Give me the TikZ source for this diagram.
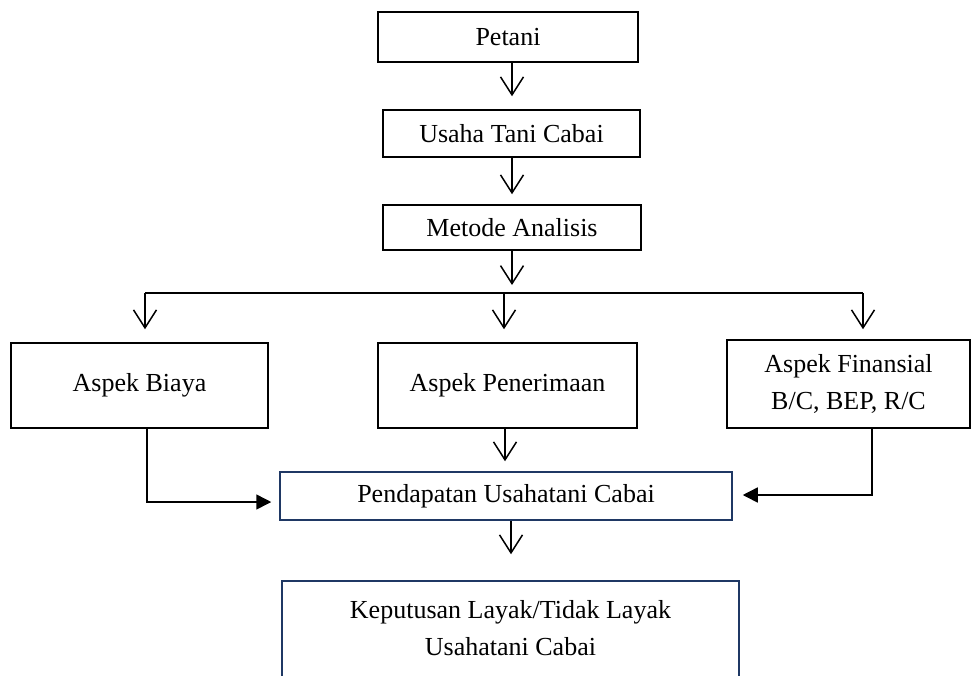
\documentclass[tikz,border=0pt]{standalone}
\usepackage{fontspec}
\setmainfont{Liberation Serif}
\usetikzlibrary{arrows.meta}
\definecolor{navy}{HTML}{1F3864}

\begin{document}
\begin{tikzpicture}[x=1pt,y=-1pt,
    kotak/.style={draw,line width=1.5pt,inner sep=0pt,align=center,font=\fontsize{26}{37}\selectfont},
    arr/.style={-{Straight Barb[length=18pt,width=23pt]},line width=1.5pt},
    arrb/.style={-{Triangle[length=15pt,width=15pt]},line width=1.5pt}]
    \useasboundingbox (0,0) rectangle (976,675);
    \clip (0,0) rectangle (976,675);
    \node[kotak,minimum width=260,minimum height=50] (petani) at (508,37) {Petani};
    \node[kotak,minimum width=257,minimum height=47] (usaha) at (511.5,133.5) {Usaha Tani Cabai};
    \node[kotak,minimum width=258,minimum height=45] (metode) at (512,227.5) {Metode Analisis};
    \node[kotak,minimum width=257,minimum height=85] (biaya) at (139.5,385.5) {Aspek Biaya};
    \node[kotak,minimum width=259,minimum height=85] (terima) at (507.5,385.5) {Aspek Penerimaan};
    \node[kotak,minimum width=243,minimum height=88] (finansial) at (848.5,384) {Aspek Finansial\\B/C, BEP, R/C};
    \node[kotak,draw=navy,minimum width=452,minimum height=48] (pendapatan) at (506,496) {Pendapatan Usahatani Cabai};
    \node[kotak,draw=navy,minimum width=457,minimum height=140] (keputusan) at (510.5,651) {};
    \node[kotak,draw=none] (keputusanteks) at (510.5,628) {Keputusan Layak/Tidak Layak\\Usahatani Cabai};
    \coordinate (cabang) at (512,293);
    \coordinate (kiri) at (145,293);
    \coordinate (tengah) at (504,293);
    \coordinate (kanan) at (863,293);
    \coordinate (belokB) at (147,502);
    \coordinate (belokF) at (872,495);
    \draw[arr,shorten >=13pt] (petani.south -| metode) -- (usaha.north -| metode);
    \draw[arr,shorten >=10pt] (usaha.south -| metode) -- (metode.north);
    \draw[arr,shorten >=8pt] (metode.south) -- (cabang);
    \draw[line width=1.5pt] (kiri) -- (kanan);
    \draw[arr,shorten >=13pt] (kiri) -- (kiri |- biaya.north);
    \draw[arr,shorten >=13pt] (tengah) -- (tengah |- terima.north);
    \draw[arr,shorten >=10pt] (kanan) -- (kanan |- finansial.north);
    \draw[arrb,shorten >=8pt] (belokB |- biaya.south) -- (belokB) -- (belokB -| pendapatan.west);
    \draw[arrb,shorten >=10pt] (belokF |- finansial.south) -- (belokF) -- (belokF -| pendapatan.east);
    \draw[arr,shorten >=10pt] (terima.south -| 505,0) -- (pendapatan.north -| 505,0);
    \draw[arr,shorten >=26pt] (pendapatan.south -| 511,0) -- (keputusan.north -| 511,0);
\end{tikzpicture}
\end{document}
